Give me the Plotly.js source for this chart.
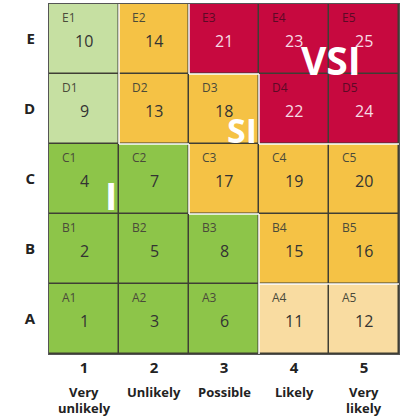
<!DOCTYPE html>
<html>
<head>
<meta charset="utf-8">
<script src="https://cdn.plot.ly/plotly-3.0.1.min.js"></script>
<style>html,body{margin:0;padding:0;background:#fff;}#chart{width:403px;height:416px;}</style>
</head>
<body>
<div id="chart"></div>
<script>
// Likelihood (columns) and severity (rows)
const likelihood = [1, 2, 3, 4, 5];
const likelihoodLabels = ['Very<br>unlikely', 'Unlikely', 'Possible', 'Likely', 'Very<br>likely'];
const severity = ['A', 'B', 'C', 'D', 'E'];
// Risk scores, rows A..E, columns 1..5
const scores = [
  [1, 3, 6, 11, 12],
  [2, 5, 8, 15, 16],
  [4, 7, 17, 19, 20],
  [9, 13, 18, 22, 24],
  [10, 14, 21, 23, 25]
];
// Zone per cell: 0 green, 1 light green, 2 pale orange, 3 orange, 4 red
const zones = [
  [0, 0, 0, 2, 2],
  [0, 0, 0, 3, 3],
  [0, 0, 3, 3, 3],
  [1, 3, 3, 4, 4],
  [1, 3, 4, 4, 4]
];
const zoneColors = ['#8dc549', '#c6e0a2', '#f9dca1', '#f5c245', '#c7093f'];
const zoneTags = ['I', 'SI', 'VSI'];

const FONT = 'Open Sans, Liberation Sans, sans-serif';

const colorscale = [];
zoneColors.forEach((c, i) => {
  colorscale.push([i / zoneColors.length, c]);
  colorscale.push([(i + 1) / zoneColors.length, c]);
});

const trace = {
  type: 'heatmap',
  x: likelihood,
  y: severity,
  z: zones,
  zmin: 0, zmax: 4,
  colorscale: colorscale,
  showscale: false,
  xgap: 1.5, ygap: 1.5,
  hoverinfo: 'skip'
};

const annotations = [];
const shapes = [];
severity.forEach((s, r) => {
  likelihood.forEach((l, c) => {
    const red = zones[r][c] === 4;
    annotations.push({
      x: l, y: r, text: s + l, showarrow: false,
      xanchor: 'left', yanchor: 'middle', xshift: -24, yshift: 22,
      font: {family: FONT, size: 12, color: red ? '#5c0a26' : '#4a4a3a'}
    });
    annotations.push({
      x: l, y: r, text: String(scores[r][c]), showarrow: false,
      xanchor: 'center', yanchor: 'middle', yshift: -2,
      font: {family: FONT, size: 16, color: red ? '#f6dbe4' : '#333333'}
    });
    const green = z => z === 0 || z === 1;
    // white separators at zone changes
    if (c < 4) {
      const a = zones[r][c], b = zones[r][c + 1];
      if (a !== b && !(green(a) && green(b))) {
        shapes.push({type: 'line', xref: 'x', yref: 'y', x0: l + 0.5, x1: l + 0.5, y0: r - 0.5, y1: r + 0.5,
          line: {color: '#ffffff', width: 1.5}});
      }
    }
    if (r < 4) {
      const a = zones[r][c], b = zones[r + 1][c];
      if (a !== b && !(green(a) && green(b))) {
        shapes.push({type: 'line', xref: 'x', yref: 'y', x0: l - 0.5, x1: l + 0.5, y0: r + 0.5, y1: r + 0.5,
          line: {color: '#ffffff', width: 1.5}});
      }
    }
  });
});

// Likelihood descriptions under the tick numbers (one annotation per line)
likelihood.forEach((l, i) => {
  likelihoodLabels[i].split('<br>').forEach((line, k) => {
    annotations.push({
      x: l, xref: 'x', y: -0.109 - k * 0.044, yref: 'paper', text: '<b>' + line + '</b>',
      showarrow: false, xanchor: 'center', yanchor: 'middle',
      font: {family: FONT, size: 13, color: '#222222'}
    });
  });
});

// Zone tags
const tagPos = [[1.386, 1.77, 37], [3.257, 2.70, 34], [4.53, 3.714, 39]];
zoneTags.forEach((t, i) => {
  annotations.push({
    x: tagPos[i][0], y: tagPos[i][1], xref: 'x', yref: 'y', text: '<b>' + t + '</b>',
    showarrow: false, xanchor: 'center', yanchor: 'middle',
    font: {family: FONT, size: tagPos[i][2], color: '#ffffff'}
  });
});

const layout = {
  width: 403, height: 416,
  margin: {l: 49, r: 4, t: 4, b: 62},
  paper_bgcolor: '#ffffff',
  plot_bgcolor: '#3f3e34',
  showlegend: false,
  xaxis: {
    range: [0.5, 5.5], tickvals: likelihood,
    ticktext: likelihood.map(v => '<b>' + v + '</b>'),
    showgrid: false, zeroline: false, ticks: '',
    showline: true, mirror: true, linecolor: '#555555', linewidth: 1,
    ticklabelstandoff: 0,
    tickfont: {family: FONT, size: 15, color: '#222222'},
    fixedrange: true
  },
  yaxis: {
    type: 'category', range: [-0.5, 4.5],
    tickvals: severity, ticktext: severity.map(v => '<b>' + v + '</b>'),
    showgrid: false, zeroline: false, ticks: '',
    showline: true, mirror: true, linecolor: '#555555', linewidth: 1,
    ticklabelstandoff: 10,
    tickfont: {family: FONT, size: 15, color: '#222222'},
    fixedrange: true
  },
  annotations: annotations,
  shapes: shapes
};

Plotly.newPlot('chart', [trace], layout, {displayModeBar: false, staticPlot: true});
</script>
</body>
</html>
